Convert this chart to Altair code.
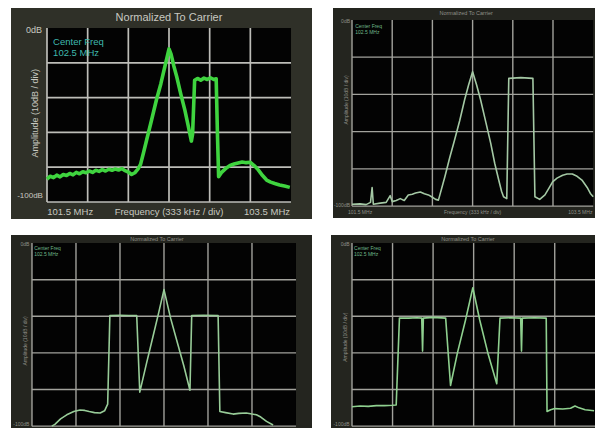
import altair as alt
import pandas as pd

# ---------------- text ----------------
TITLE = "Normalized To Carrier"
Y_TOP = "0dB"
Y_BOT = "-100dB"
Y_TITLE = "Amplitude (10dB / div)"
X_LEFT = "101.5 MHz"
X_MID = "Frequency (333 kHz / div)"
X_RIGHT = "103.5 MHz"
NOTE1 = "Center Freq"
NOTE2 = "102.5 MHz"

# grid divisions (x: 6 divisions, y: 5 divisions)
grid_x = [0, 1, 2, 3, 4, 5]
grid_y = [0, 1, 2, 3, 4]

# ---------------- traces (x in divisions, y in divisions above bottom) ----------------
p1_trace = [
    (0.00, 0.66), (0.08, 0.74), (0.16, 0.70), (0.24, 0.77), (0.32, 0.72), (0.40, 0.79),
    (0.48, 0.76), (0.56, 0.82), (0.64, 0.78), (0.72, 0.85), (0.80, 0.81), (0.88, 0.87),
    (0.96, 0.84), (1.04, 0.89), (1.12, 0.85), (1.20, 0.91), (1.28, 0.88), (1.36, 0.93),
    (1.44, 0.89), (1.52, 0.94), (1.60, 0.91), (1.68, 0.95), (1.76, 0.92), (1.84, 0.96),
    (1.92, 0.90), (2.00, 0.86), (2.08, 0.79), (2.16, 0.84), (2.24, 0.95), (2.30, 1.08),
    (2.37, 1.40), (2.45, 1.78), (2.57, 2.35), (2.69, 2.93), (2.80, 3.40), (2.90, 3.90),
    (2.96, 4.20), (3.00, 4.40), (3.05, 4.25), (3.12, 3.90), (3.19, 3.60), (3.29, 3.10),
    (3.39, 2.64), (3.47, 2.20), (3.55, 1.75), (3.58, 1.95), (3.63, 3.50), (3.70, 3.55),
    (3.78, 3.50), (3.86, 3.56), (3.94, 3.52), (4.02, 3.57), (4.10, 3.52), (4.16, 3.54),
    (4.19, 2.00), (4.22, 0.73), (4.30, 0.86), (4.41, 0.98), (4.50, 1.05), (4.60, 1.09),
    (4.70, 1.12), (4.80, 1.15), (4.90, 1.13), (5.00, 1.14), (5.10, 1.04), (5.19, 0.93),
    (5.30, 0.76), (5.40, 0.63), (5.50, 0.57), (5.60, 0.53), (5.72, 0.49), (5.84, 0.46),
    (5.97, 0.42),
]

p2_trace = [
    (0.00, 0.05), (0.20, 0.06), (0.35, 0.04), (0.46, 0.10), (0.50, 0.50), (0.53, 0.05),
    (0.70, 0.08), (0.85, 0.10), (0.95, 0.28), (1.00, 0.12), (1.10, 0.15), (1.20, 0.20),
    (1.30, 0.15), (1.40, 0.30), (1.50, 0.32), (1.58, 0.35), (1.70, 0.38), (1.80, 0.33),
    (1.90, 0.30), (1.98, 0.25), (2.08, 0.18), (2.15, 0.16), (2.31, 0.79), (2.43, 1.30),
    (2.55, 1.77), (2.68, 2.30), (2.80, 2.85), (2.90, 3.25), (3.00, 3.61), (3.10, 3.25),
    (3.20, 2.85), (3.33, 2.25), (3.45, 1.69), (3.55, 1.15), (3.65, 0.70), (3.72, 0.40),
    (3.77, 0.25), (3.85, 0.20), (3.90, 3.43), (4.20, 3.45), (4.50, 3.43), (4.55, 0.25),
    (4.67, 0.18), (4.80, 0.30), (4.90, 0.48), (4.99, 0.65), (5.10, 0.75), (5.24, 0.83),
    (5.35, 0.86), (5.48, 0.86), (5.60, 0.80), (5.72, 0.70), (5.85, 0.50), (5.93, 0.34),
    (6.00, 0.25),
]

p3_trace = [
    (0.45, 0.00), (0.52, 0.05), (0.65, 0.20), (0.79, 0.31), (0.95, 0.40), (1.09, 0.44),
    (1.20, 0.43), (1.30, 0.40), (1.42, 0.37), (1.55, 0.36), (1.65, 0.42), (1.72, 0.60),
    (1.77, 3.02), (2.00, 3.03), (2.20, 3.02), (2.38, 3.02), (2.45, 0.93), (2.60, 1.70),
    (2.75, 2.45), (2.88, 3.10), (3.00, 3.73), (3.15, 2.95), (3.30, 2.30), (3.45, 1.65),
    (3.59, 0.98), (3.63, 3.02), (3.90, 3.03), (4.23, 3.02), (4.27, 0.40), (4.40, 0.37),
    (4.57, 0.33), (4.70, 0.35), (4.87, 0.36), (5.00, 0.33), (5.10, 0.31), (5.20, 0.25),
    (5.33, 0.13), (5.48, 0.03),
]

p4_trace = [
    (0.00, 0.53), (0.20, 0.55), (0.40, 0.54), (0.60, 0.56), (0.80, 0.56), (1.00, 0.57),
    (1.09, 0.58), (1.17, 2.95), (1.40, 2.95), (1.60, 2.96), (1.72, 2.95), (1.74, 2.05),
    (1.76, 2.95), (2.00, 2.97), (2.31, 2.95), (2.43, 1.11), (2.60, 2.00), (2.80, 2.90),
    (2.98, 3.78), (3.15, 2.90), (3.35, 2.00), (3.57, 1.16), (3.65, 2.95), (3.90, 2.96),
    (4.16, 2.95), (4.18, 2.05), (4.20, 2.95), (4.50, 2.96), (4.79, 2.95), (4.81, 0.40),
    (4.90, 0.45), (5.00, 0.48), (5.20, 0.47), (5.39, 0.49), (5.50, 0.55), (5.60, 0.50),
    (5.75, 0.45), (5.97, 0.42),
]

FONT = "Liberation Sans"


def panel(trace, w, h, xdom, ydom, frame, tcolor, twidth, gcolor, gwidth, texts):
    sx = alt.Scale(domain=xdom, nice=False, zero=False)
    sy = alt.Scale(domain=ydom, nice=False, zero=False)

    def X(f):
        return alt.X(f, type="quantitative", scale=sx, axis=None)

    def Y(f):
        return alt.Y(f, type="quantitative", scale=sy, axis=None)

    layers = []
    plot_df = pd.DataFrame({"x0": [0], "x1": [6], "y0": [0], "y1": [5]})
    layers.append(
        alt.Chart(plot_df).mark_rect(color="#030303", clip=True)
        .encode(x=X("x0"), x2="x1", y=Y("y0"), y2="y1")
    )
    vg = pd.DataFrame({"gx": grid_x, "a": [0] * len(grid_x), "b": [5] * len(grid_x)})
    layers.append(
        alt.Chart(vg).mark_rule(color=gcolor, strokeWidth=gwidth, clip=True)
        .encode(x=X("gx"), y=Y("a"), y2="b")
    )
    hg = pd.DataFrame({"gy": grid_y, "a": [0] * len(grid_y), "b": [6] * len(grid_y)})
    layers.append(
        alt.Chart(hg).mark_rule(color=gcolor, strokeWidth=gwidth, clip=True)
        .encode(y=Y("gy"), x=X("a"), x2="b")
    )
    tdf = pd.DataFrame({
        "fx": [p[0] for p in trace],
        "fy": [p[1] for p in trace],
        "i": list(range(len(trace))),
    })
    layers.append(
        alt.Chart(tdf).mark_line(color=tcolor, strokeWidth=twidth, clip=True, strokeJoin="round")
        .encode(x=X("fx"), y=Y("fy"), order="i:Q")
    )
    for t in texts:
        df = pd.DataFrame({"tx": [t["x"]], "ty": [t["y"]], "s": [t["text"]]})
        kw = dict(font=FONT, fontSize=t["size"], color=t["color"],
                  align=t.get("align", "center"), baseline="middle", clip=True)
        if "angle" in t:
            kw["angle"] = t["angle"]
        layers.append(
            alt.Chart(df).mark_text(**kw).encode(x=X("tx"), y=Y("ty"), text="s:N")
        )
    return alt.layer(*layers).properties(
        width=w, height=h, view=alt.ViewBackground(fill=frame, stroke=None)
    )


LBL = "#c8c8c0"
SMALL = "#8f8f88"
NOTE = "#3fb8ae"
NOTE_S = "#6fb88a"

p1 = panel(
    p1_trace, 301, 211, [-0.885, 6.516], [-0.489, 5.575], "#2f3028",
    "#3fd43f", 3.6, "#bdbdb8", 1.7,
    [
        {"x": 3.0, "y": 5.29, "text": TITLE, "size": 11, "color": LBL},
        {"x": -0.12, "y": 4.94, "text": Y_TOP, "size": 9, "color": LBL, "align": "right"},
        {"x": -0.10, "y": 0.17, "text": Y_BOT, "size": 8, "color": LBL, "align": "right"},
        {"x": -0.30, "y": 2.55, "text": Y_TITLE, "size": 9, "color": LBL, "angle": 270},
        {"x": 0.57, "y": -0.29, "text": X_LEFT, "size": 9.5, "color": LBL},
        {"x": 3.00, "y": -0.29, "text": X_MID, "size": 9.5, "color": LBL},
        {"x": 5.41, "y": -0.29, "text": X_RIGHT, "size": 9.5, "color": LBL},
        {"x": 0.15, "y": 4.60, "text": NOTE1, "size": 9.5, "color": NOTE, "align": "left"},
        {"x": 0.15, "y": 4.28, "text": NOTE2, "size": 9.5, "color": NOTE, "align": "left"},
    ],
)

p2 = panel(
    p2_trace, 262, 210, [-0.473, 6.045], [-0.32, 5.32], "#24251f",
    "#a4c8a4", 1.6, "#a2a29c", 1.4,
    [
        {"x": 2.84, "y": 5.19, "text": TITLE, "size": 5.5, "color": SMALL},
        {"x": -0.05, "y": 4.97, "text": Y_TOP, "size": 5, "color": SMALL, "align": "right"},
        {"x": -0.05, "y": 0.04, "text": Y_BOT, "size": 5, "color": SMALL, "align": "right"},
        {"x": -0.14, "y": 2.85, "text": Y_TITLE, "size": 5, "color": SMALL, "angle": 270},
        {"x": 0.20, "y": -0.16, "text": X_LEFT, "size": 5, "color": SMALL},
        {"x": 3.00, "y": -0.16, "text": X_MID, "size": 5, "color": SMALL},
        {"x": 5.98, "y": -0.16, "text": X_RIGHT, "size": 5, "color": SMALL, "align": "right"},
        {"x": 0.08, "y": 4.85, "text": NOTE1, "size": 5, "color": NOTE_S, "align": "left"},
        {"x": 0.08, "y": 4.68, "text": NOTE2, "size": 5, "color": NOTE_S, "align": "left"},
    ],
)

p3 = panel(
    p3_trace, 301, 193, [-0.477, 6.364], [-0.05, 5.22], "#24251f",
    "#98cc98", 1.6, "#a2a29c", 1.4,
    [
        {"x": 2.84, "y": 5.10, "text": TITLE, "size": 5.5, "color": SMALL},
        {"x": -0.06, "y": 4.97, "text": Y_TOP, "size": 5, "color": SMALL, "align": "right"},
        {"x": -0.06, "y": 0.06, "text": Y_BOT, "size": 5, "color": SMALL, "align": "right"},
        {"x": -0.16, "y": 2.33, "text": Y_TITLE, "size": 5, "color": SMALL, "angle": 270},
        {"x": 0.05, "y": 4.87, "text": NOTE1, "size": 5, "color": NOTE_S, "align": "left"},
        {"x": 0.05, "y": 4.70, "text": NOTE2, "size": 5, "color": NOTE_S, "align": "left"},
    ],
)

p4 = panel(
    p4_trace, 264, 193, [-0.518, 5.993], [-0.05, 5.22], "#24251f",
    "#8fd08f", 1.6, "#a2a29c", 1.4,
    [
        {"x": 2.86, "y": 5.10, "text": TITLE, "size": 5.5, "color": SMALL},
        {"x": -0.06, "y": 4.97, "text": Y_TOP, "size": 5, "color": SMALL, "align": "right"},
        {"x": -0.06, "y": 0.06, "text": Y_BOT, "size": 5, "color": SMALL, "align": "right"},
        {"x": -0.17, "y": 2.43, "text": Y_TITLE, "size": 5, "color": SMALL, "angle": 270},
        {"x": 0.05, "y": 4.87, "text": NOTE1, "size": 5, "color": NOTE_S, "align": "left"},
        {"x": 0.05, "y": 4.70, "text": NOTE2, "size": 5, "color": NOTE_S, "align": "left"},
    ],
)

row1 = alt.hconcat(p1, p2, spacing=21)
row2 = alt.hconcat(p3, p4, spacing=19)
chart = alt.vconcat(row1, row2, spacing=16).properties(
    padding={"left": 3, "top": 0, "right": 0, "bottom": 0},
    background="#ffffff",
).configure_view(stroke=None)

chart.save("out.html", embed_options={"renderer": "svg", "actions": False})
